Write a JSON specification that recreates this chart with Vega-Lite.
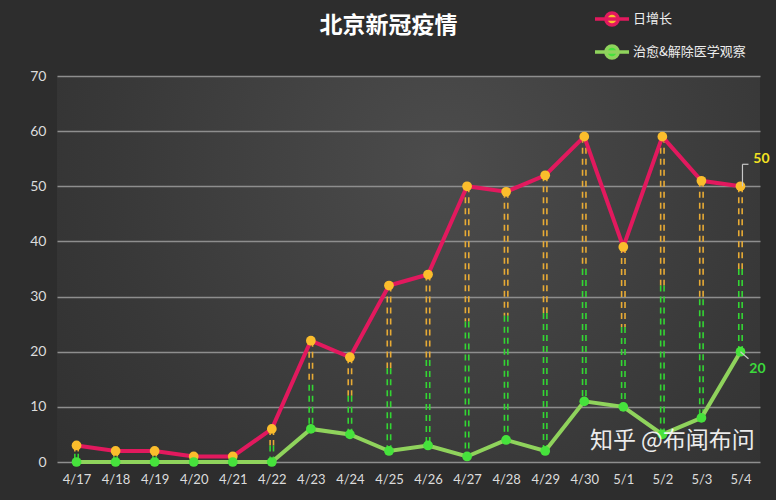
{
  "$schema": "https://vega.github.io/schema/vega-lite/v6.json",
  "width": 703,
  "height": 386,
  "autosize": "none",
  "padding": {"left": 57, "top": 76, "right": 16, "bottom": 38},
  "background": "#2d2d2d",
  "config": {
    "view": {
      "stroke": null,
      "fill": {
        "gradient": "radial",
        "x1": 0.55, "y1": 0.35, "x2": 0.55, "y2": 0.35, "r1": 0, "r2": 0.8,
        "stops": [
          {"offset": 0, "color": "#4c4c4c"},
          {"offset": 0.6, "color": "#383838"},
          {"offset": 1, "color": "#2d2d2d"}
        ]
      }
    },
    "font": "Lato",
    "axisY": {
      "title": null,
      "labelColor": "#dcdcdc",
      "labelFontSize": 14,
      "labelPadding": 11,
      "domain": false,
      "ticks": false,
      "grid": true,
      "gridColor": "#8e8e8e",
      "gridWidth": 1.5
    }
  },
  "title": {
    "text": "北京新冠疫情",
    "font": "Noto Sans CJK SC",
    "fontSize": 23,
    "fontWeight": "bold",
    "color": "#ffffff",
    "anchor": "middle",
    "dx": -20,
    "offset": 0,
    "dy": 38
  },
  "data": {
    "values": [
      {"date": "4/17", "series": "日增长", "value": 3},
      {"date": "4/18", "series": "日增长", "value": 2},
      {"date": "4/19", "series": "日增长", "value": 2},
      {"date": "4/20", "series": "日增长", "value": 1},
      {"date": "4/21", "series": "日增长", "value": 1},
      {"date": "4/22", "series": "日增长", "value": 6},
      {"date": "4/23", "series": "日增长", "value": 22},
      {"date": "4/24", "series": "日增长", "value": 19},
      {"date": "4/25", "series": "日增长", "value": 32},
      {"date": "4/26", "series": "日增长", "value": 34},
      {"date": "4/27", "series": "日增长", "value": 50},
      {"date": "4/28", "series": "日增长", "value": 49},
      {"date": "4/29", "series": "日增长", "value": 52},
      {"date": "4/30", "series": "日增长", "value": 59},
      {"date": "5/1", "series": "日增长", "value": 39},
      {"date": "5/2", "series": "日增长", "value": 59},
      {"date": "5/3", "series": "日增长", "value": 51},
      {"date": "5/4", "series": "日增长", "value": 50},
      {"date": "4/17", "series": "治愈&解除医学观察", "value": 0},
      {"date": "4/18", "series": "治愈&解除医学观察", "value": 0},
      {"date": "4/19", "series": "治愈&解除医学观察", "value": 0},
      {"date": "4/20", "series": "治愈&解除医学观察", "value": 0},
      {"date": "4/21", "series": "治愈&解除医学观察", "value": 0},
      {"date": "4/22", "series": "治愈&解除医学观察", "value": 0},
      {"date": "4/23", "series": "治愈&解除医学观察", "value": 6},
      {"date": "4/24", "series": "治愈&解除医学观察", "value": 5},
      {"date": "4/25", "series": "治愈&解除医学观察", "value": 2},
      {"date": "4/26", "series": "治愈&解除医学观察", "value": 3},
      {"date": "4/27", "series": "治愈&解除医学观察", "value": 1},
      {"date": "4/28", "series": "治愈&解除医学观察", "value": 4},
      {"date": "4/29", "series": "治愈&解除医学观察", "value": 2},
      {"date": "4/30", "series": "治愈&解除医学观察", "value": 11},
      {"date": "5/1", "series": "治愈&解除医学观察", "value": 10},
      {"date": "5/2", "series": "治愈&解除医学观察", "value": 5},
      {"date": "5/3", "series": "治愈&解除医学观察", "value": 8},
      {"date": "5/4", "series": "治愈&解除医学观察", "value": 20}
    ]
  },
  "encoding": {
    "x": {
      "field": "date",
      "type": "ordinal",
      "sort": null,
      "scale": {"type": "point", "padding": 0.5},
      "axis": {
        "title": null,
        "labelAngle": 0,
        "labelColor": "#dcdcdc",
        "labelFontSize": 13,
        "labelPadding": 11,
        "domain": false,
        "ticks": false,
        "grid": false
      }
    },
    "y": {
      "field": "value",
      "type": "quantitative",
      "scale": {"domain": [0, 70]},
      "axis": {"title": null, "values": [0, 10, 20, 30, 40, 50, 60, 70]}
    }
  },
  "layer": [
    {
      "transform": [
        {
          "aggregate": [
            {"op": "max", "field": "value", "as": "top"},
            {"op": "min", "field": "value", "as": "bot"},
            {"op": "mean", "field": "value", "as": "mid"}
          ],
          "groupby": ["date"]
        }
      ],
      "layer": [
        {
          "mark": {"type": "rule", "color": "#e8ab35", "strokeWidth": 1.6, "strokeDash": [6, 5], "xOffset": -1.7},
          "encoding": {"y": {"field": "top", "type": "quantitative", "axis": {"title": null, "values": [0, 10, 20, 30, 40, 50, 60, 70]}}, "y2": {"field": "mid"}}
        },
        {
          "mark": {"type": "rule", "color": "#e8ab35", "strokeWidth": 1.6, "strokeDash": [6, 5], "xOffset": 1.7},
          "encoding": {"y": {"field": "top", "type": "quantitative", "axis": {"title": null, "values": [0, 10, 20, 30, 40, 50, 60, 70]}}, "y2": {"field": "mid"}}
        },
        {
          "mark": {"type": "rule", "color": "#33d633", "strokeWidth": 1.6, "strokeDash": [6, 5], "xOffset": -1.7},
          "encoding": {"y": {"field": "mid", "type": "quantitative", "axis": {"title": null, "values": [0, 10, 20, 30, 40, 50, 60, 70]}}, "y2": {"field": "bot"}}
        },
        {
          "mark": {"type": "rule", "color": "#33d633", "strokeWidth": 1.6, "strokeDash": [6, 5], "xOffset": 1.7},
          "encoding": {"y": {"field": "mid", "type": "quantitative", "axis": {"title": null, "values": [0, 10, 20, 30, 40, 50, 60, 70]}}, "y2": {"field": "bot"}}
        }
      ]
    },
    {
      "mark": {"type": "line", "strokeWidth": 4},
      "encoding": {
        "color": {
          "field": "series",
          "type": "nominal",
          "scale": {"domain": ["日增长", "治愈&解除医学观察"], "range": ["#e2195e", "#8fd35c"]},
          "legend": {
            "title": null,
            "orient": "none",
            "legendX": 536,
            "legendY": -76,
            "padding": 0,
            "symbolType": "M-1,0H1M0.36,0A0.36,0.36,0,1,1,-0.36,0A0.36,0.36,0,1,1,0.36,0",
            "symbolSize": 1156,
            "symbolStrokeWidth": 3.5,
            "labelColor": "#eeeeee",
            "labelFont": "Noto Sans CJK SC",
            "labelFontSize": 13,
            "labelOffset": 2,
            "rowPadding": -10,
            "encode": {
              "symbols": {
                "update": {
                  "fill": {"signal": "datum.value === '日增长' ? '#fbbd2c' : '#46e23c'"},
                  "fillOpacity": {"value": 1}
                }
              }
            }
          }
        }
      }
    },
    {
      "mark": {"type": "circle", "size": 95, "opacity": 1},
      "encoding": {
        "fill": {
          "field": "series",
          "type": "nominal",
          "scale": {"domain": ["日增长", "治愈&解除医学观察"], "range": ["#fbbd2c", "#46e23c"]},
          "legend": null
        }
      }
    },
    {
      "transform": [{"filter": "datum.date === '5/4' && datum.series === '日增长'"}],
      "layer": [
        {
          "mark": {"type": "rule", "color": "#c8c8c8", "strokeWidth": 1.2, "xOffset": 2, "y2Offset": -22},
          "encoding": {"y2": {"field": "value"}}
        },
        {
          "mark": {"type": "rule", "color": "#c8c8c8", "strokeWidth": 1.2, "yOffset": -22, "xOffset": 2, "x2Offset": 8},
          "encoding": {"x2": {"field": "date"}}
        },
        {
          "mark": {"type": "text", "dx": 21, "dy": -27, "fontSize": 14, "fontWeight": "bold", "fill": "#f3e222"},
          "encoding": {"text": {"field": "value", "type": "quantitative"}}
        }
      ]
    },
    {
      "transform": [{"filter": "datum.date === '5/4' && datum.series !== '日增长'"}],
      "layer": [
        {
          "mark": {"type": "rule", "color": "#c8c8c8", "strokeWidth": 1.2, "x2Offset": 8, "y2Offset": 7},
          "encoding": {"x2": {"field": "date"}, "y2": {"field": "value"}}
        },
        {
          "mark": {"type": "text", "dx": 17, "dy": 17, "fontSize": 14, "fontWeight": "bold", "fill": "#3cda3c"},
          "encoding": {"text": {"field": "value", "type": "quantitative"}}
        }
      ]
    },
    {
      "transform": [{"filter": "datum.date === '5/2' && datum.series === '日增长'"}],
      "mark": {"type": "text", "font": "Noto Sans CJK SC", "fontSize": 23, "fill": "#ffffff", "opacity": 0.9, "dx": 10, "dy": 1},
      "encoding": {
        "y": {"datum": 4},
        "text": {"value": "知乎 @布闻布问"}
      }
    }
  ]
}
